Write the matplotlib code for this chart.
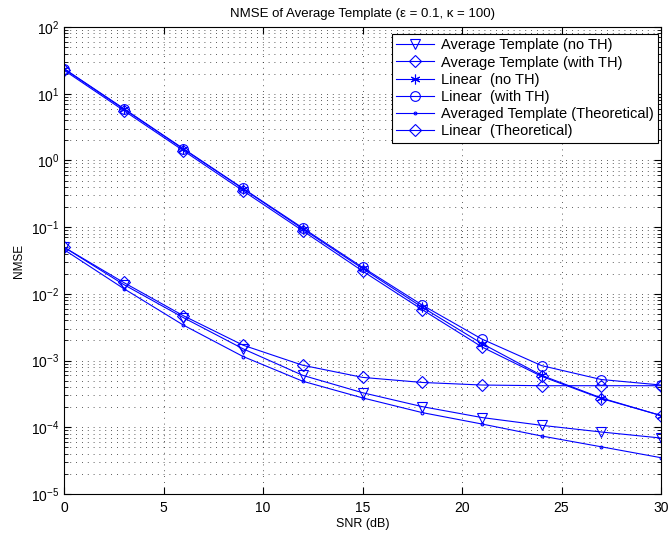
import matplotlib
matplotlib.use("Agg")
import matplotlib.pyplot as plt
import numpy as np
from matplotlib.ticker import LogLocator, NullFormatter
from matplotlib import font_manager

plt.rcParams['font.family'] = ['Liberation Sans', 'DejaVu Sans']
plt.rcParams['mathtext.fontset'] = 'custom'
plt.rcParams['mathtext.rm'] = 'Liberation Sans'
plt.rcParams['mathtext.it'] = 'Liberation Sans:italic'
plt.rcParams['mathtext.bf'] = 'Liberation Sans:bold'

snr = [0, 3, 6, 9, 12, 15, 18, 21, 24, 27, 30]

avg_no_th = [0.050, 0.0138, 0.0044, 0.0015, 6.0e-4, 3.3e-4, 2.04e-4, 1.4e-4, 1.07e-4, 8.5e-5, 6.9e-5]
avg_with_th = [0.050, 0.0148, 0.0047, 0.0017, 8.5e-4, 5.6e-4, 4.7e-4, 4.3e-4, 4.2e-4, 4.2e-4, 4.2e-4]
lin_no_th = [23.5, 5.9, 1.48, 0.375, 0.094, 0.024, 0.0063, 0.0018, 6.0e-4, 2.75e-4, 1.5e-4]
lin_with_th = [23.8, 6.0, 1.5, 0.38, 0.097, 0.025, 0.0068, 0.0021, 8.4e-4, 5.2e-4, 4.3e-4]
avg_theory = [0.046, 0.012, 0.0034, 0.00115, 4.9e-4, 2.76e-4, 1.66e-4, 1.12e-4, 7.4e-5, 5.1e-5, 3.5e-5]
lin_theory = [22.5, 5.6, 1.4, 0.35, 0.088, 0.022, 0.0058, 0.0016, 5.8e-4, 2.7e-4, 1.5e-4]

labels = ['Average Template (no TH)', 'Average Template (with TH)', 'Linear  (no TH)',
          'Linear  (with TH)', 'Averaged Template (Theoretical)', 'Linear  (Theoretical)']

W, H = 668, 538
fig = plt.figure(figsize=(W / 100, H / 100), dpi=100)
ax = fig.add_axes([64 / W, 1 - 494 / H, (661 - 64) / W, (494 - 27) / H])

blue = (0, 0, 1)
kw = dict(color=blue, lw=0.8, mfc='none', mec=blue, mew=0.8)
ax.semilogy(snr, avg_no_th, marker='v', ms=7, label=labels[0], **kw)
ax.semilogy(snr, avg_with_th, marker='D', ms=6, label=labels[1], **kw)
ax.semilogy(snr, lin_no_th, marker=(6, 2, 0), ms=7, label=labels[2], **kw)
ax.semilogy(snr, lin_with_th, marker='o', ms=7, label=labels[3], **kw)
ax.semilogy(snr, avg_theory, marker='.', ms=4, label=labels[4], **kw)
ax.semilogy(snr, lin_theory, marker='D', ms=6, label=labels[5], **kw)

ax.set_xlim(0, 30)
ax.set_ylim(1e-5, 1e2)
ax.set_xticks([0, 5, 10, 15, 20, 25, 30])
ax.yaxis.set_major_locator(LogLocator(base=10, numticks=20))
ax.yaxis.set_minor_locator(LogLocator(base=10, subs=np.arange(2, 10), numticks=20))
ax.yaxis.set_minor_formatter(NullFormatter())

gkw = dict(linestyle=(0, (1, 6)), color='0.15', lw=0.6)
ax.grid(True, which='major', **gkw)
ax.grid(True, which='minor', axis='y', **gkw)

ax.tick_params(which='both', direction='in', top=True, right=True, labelsize=10)
ax.tick_params(axis='x', which='major', pad=5)
ax.tick_params(which='major', length=5)
ax.tick_params(which='minor', length=3)
for s in ax.spines.values():
    s.set_linewidth(0.8)

narrow = 'Liberation Sans Narrow'
avail = {f.name for f in font_manager.fontManager.ttflist}
yl_family = [narrow, 'Liberation Sans'] if narrow in avail else ['Liberation Sans']

ax.set_xlabel('SNR (dB)', fontsize=9, labelpad=2)
ax.set_ylabel('NMSE', fontsize=8.5, labelpad=4, family=yl_family)
ax.set_title('NMSE of Average Template (ε = 0.1, κ = 100)', fontsize=9.5, pad=7)

leg = ax.legend(loc='upper right', bbox_to_anchor=(658 / W, 1 - 34 / H),
                bbox_transform=fig.transFigure, borderaxespad=0,
                fontsize=10.5, fancybox=False, framealpha=1,
                edgecolor='black', handlelength=2.6,
                labelspacing=0.22, borderpad=0.3, handletextpad=0.45)
leg.get_frame().set_linewidth(0.8)

fig.savefig('out.png', dpi=100)
